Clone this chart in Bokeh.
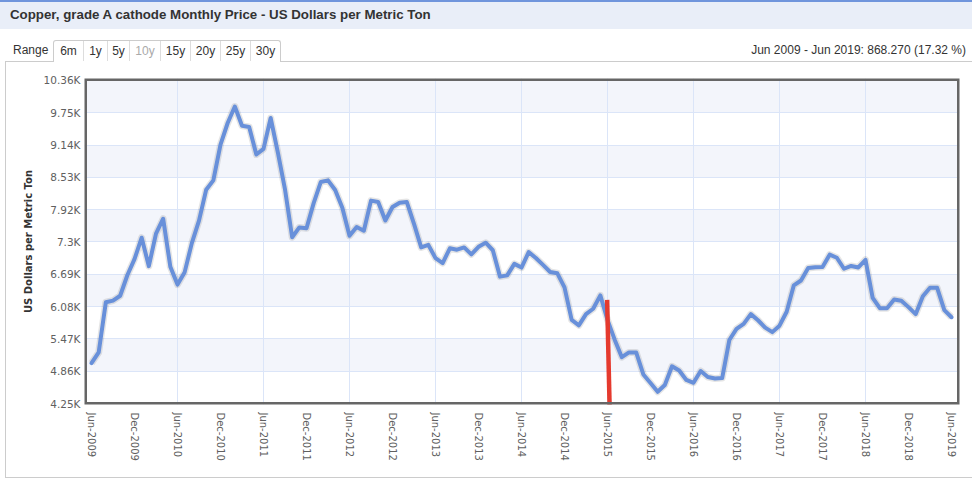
from bokeh.plotting import figure
from bokeh.models import FixedTicker, Range1d, Div, ColumnDataSource, BoxAnnotation
from bokeh.layouts import column
from bokeh.embed import file_html
from bokeh.resources import INLINE

# ---------------- data ----------------
title_text = "Copper, grade A cathode Monthly Price - US Dollars per Metric Ton"
summary_text = "Jun 2009 - Jun 2019: 868.270 (17.32 %)"
range_buttons = ["6m", "1y", "5y", "10y", "15y", "20y", "25y", "30y"]
disabled_buttons = ["10y"]

# monthly price, Jun-2009 .. Jun-2019 (US$ per metric ton)
price = [
    5014, 5216, 6165, 6196, 6288, 6676, 6982,
    7386, 6848, 7463, 7745, 6838, 6499, 6735, 7284, 7709, 8292, 8470, 9147,
    9556, 9868, 9503, 9482, 8960, 9066, 9650, 9000, 8300, 7394, 7581, 7565,
    8041, 8441, 8471, 8289, 7955, 7423, 7589, 7518, 8088, 8062, 7711, 7966,
    8048, 8061, 7646, 7202, 7250, 7000, 6907, 7186, 7159, 7203, 7071, 7215,
    7291, 7149, 6650, 6674, 6891, 6821, 7113, 7002, 6872, 6737, 6713, 6446,
    5831, 5729, 5940, 6042, 6295, 5833, 5457, 5127, 5217, 5216, 4800, 4639,
    4472, 4599, 4954, 4873, 4695, 4642, 4864, 4751, 4722, 4731, 5451, 5660,
    5755, 5941, 5825, 5685, 5600, 5722, 5985, 6485, 6577, 6812, 6827, 6834,
    7066, 7007, 6799, 6852, 6824, 6969, 6248, 6053, 6051, 6217, 6194, 6073,
    5940, 6279, 6439, 6439, 6017, 5882,
]
month_index = list(range(len(price)))

x_tick_labels = [
    "Jun-2009", "Dec-2009", "Jun-2010", "Dec-2010", "Jun-2011", "Dec-2011",
    "Jun-2012", "Dec-2012", "Jun-2013", "Dec-2013", "Jun-2014", "Dec-2014",
    "Jun-2015", "Dec-2015", "Jun-2016", "Dec-2016", "Jun-2017", "Dec-2017",
    "Jun-2018", "Dec-2018", "Jun-2019",
]
x_tick_positions = [6 * i for i in range(len(x_tick_labels))]
x_grid_positions = [12, 24, 36, 48, 60, 72, 84, 96, 108]

y_tick_values = [4250, 4861, 5472, 6083, 6694, 7305, 7916, 8527, 9138, 9749, 10360]
y_tick_labels = ["4.25K", "4.86K", "5.47K", "6.08K", "6.69K", "7.3K",
                 "7.92K", "8.53K", "9.14K", "9.75K", "10.36K"]

# red marker line (month index, price)
marker_x = [71.95, 72.3]
marker_y = [6210, 4150]

# ---------------- header (HTML) ----------------
btn_widths = [29, 25, 23, 32, 31, 31, 31, 31]
btn_html = ""
for i, (b, w) in enumerate(zip(range_buttons, btn_widths)):
    col = "#aaaaaa" if b in disabled_buttons else "#333333"
    bl = "" if i == 0 else "border-left:1px solid #dddddd;"
    btn_html += (f'<div style="width:{w - (0 if i == 0 else 1)}px;height:20px;line-height:20px;'
                 f'text-align:center;font-size:12px;color:{col};{bl}">{b}</div>')

header_html = f"""<div style="position:relative;width:972px;height:62px;font-family:'Liberation Sans',Arial,sans-serif;">
<div style="position:absolute;left:5px;top:61px;width:980px;height:417px;border:1px solid #cccccc;box-sizing:border-box;pointer-events:none;"></div>
<div style="position:absolute;left:0px;top:0px;width:972px;height:29px;background:#e9eef8;border-top:2px solid #7095dc;box-sizing:border-box;"></div>
<div style="position:absolute;left:10px;top:8px;line-height:14px;font-size:13.3px;font-weight:bold;color:#333333;white-space:nowrap;">{title_text}</div>
<div style="position:absolute;left:13px;top:43px;line-height:14px;font-size:12px;color:#333333;">Range</div>
<div style="position:absolute;left:53px;top:40px;height:22px;display:flex;border:1px solid #cccccc;border-bottom:none;border-radius:3px 3px 0 0;background:#ffffff;box-sizing:border-box;">{btn_html}</div>
<div style="position:absolute;right:6px;top:43px;line-height:14px;font-size:12px;color:#333333;white-space:nowrap;">{summary_text}</div>
</div>"""
header = Div(text=header_html, width=972, height=62, margin=0)

# ---------------- chart ----------------
p = figure(width=972, height=417, output_backend="svg", toolbar_location=None,
           x_range=Range1d(-0.977, 121.116), y_range=Range1d(4231.1, 10397.8),
           min_border_left=84, min_border_right=13, min_border_top=16, min_border_bottom=75)
p.background_fill_color = "white"
p.border_fill_color = None
p.outline_line_color = None

# alternating horizontal bands between y ticks
for i in range(1, len(y_tick_values) - 1, 2):
    p.add_layout(BoxAnnotation(bottom=y_tick_values[i], top=y_tick_values[i + 1],
                               fill_color="#f3f5fb", fill_alpha=1.0,
                               line_color=None, level="image"))

src = ColumnDataSource(dict(x=month_index, y=price))
p.line("x", "y", source=src, line_color="#000000", line_alpha=0.10, line_width=7, line_join="round")
p.line("x", "y", source=src, line_color="#6890da", line_width=4, line_join="round", line_cap="round")
p.line(marker_x, marker_y, line_color="#e53a2e", line_width=4.5)

# plot frame border drawn above everything
frame_border = BoxAnnotation(fill_alpha=0, line_color="#666666", line_alpha=1.0,
                             line_width=5, level="overlay")
p.add_layout(frame_border)

# x axis
p.xaxis.ticker = FixedTicker(ticks=x_tick_positions)
p.xaxis.major_label_overrides = {pos: lab for pos, lab in zip(x_tick_positions, x_tick_labels)}
p.xaxis.major_label_orientation = "vertical"
p.xaxis.major_label_text_font = "DejaVu Sans"
p.xaxis.major_label_text_font_size = "10px"
p.xaxis.major_label_text_color = "#606060"
p.xaxis.major_label_standoff = 8
p.xaxis.axis_line_color = None
p.xaxis.major_tick_line_color = None
p.xaxis.minor_tick_line_color = None
p.xaxis.major_tick_out = 0
p.xaxis.major_tick_in = 0

# y axis
p.yaxis.ticker = FixedTicker(ticks=y_tick_values)
p.yaxis.major_label_overrides = {v: lab for v, lab in zip(y_tick_values, y_tick_labels)}
p.yaxis.major_label_text_font = "DejaVu Sans"
p.yaxis.major_label_text_font_size = "10.5px"
p.yaxis.major_label_text_color = "#606060"
p.yaxis.major_label_standoff = 4
p.yaxis.axis_line_color = None
p.yaxis.major_tick_line_color = None
p.yaxis.minor_tick_line_color = None
p.yaxis.major_tick_out = 0
p.yaxis.major_tick_in = 0
p.yaxis.axis_label = "US Dollars per Metric Ton"
p.yaxis.axis_label_text_font = "DejaVu Sans"
p.yaxis.axis_label_text_font_size = "10px"
p.yaxis.axis_label_text_font_style = "bold"
p.yaxis.axis_label_text_color = "#333333"
p.yaxis.axis_label_standoff = 7

# grids
p.xgrid.ticker = FixedTicker(ticks=x_grid_positions)
p.xgrid.grid_line_color = "#dbe5f8"
p.ygrid.grid_line_color = "#dbe5f8"
p.ygrid.band_fill_color = None

layout = column(header, p, spacing=0)
open("out.html", "w").write(file_html(layout, INLINE))
